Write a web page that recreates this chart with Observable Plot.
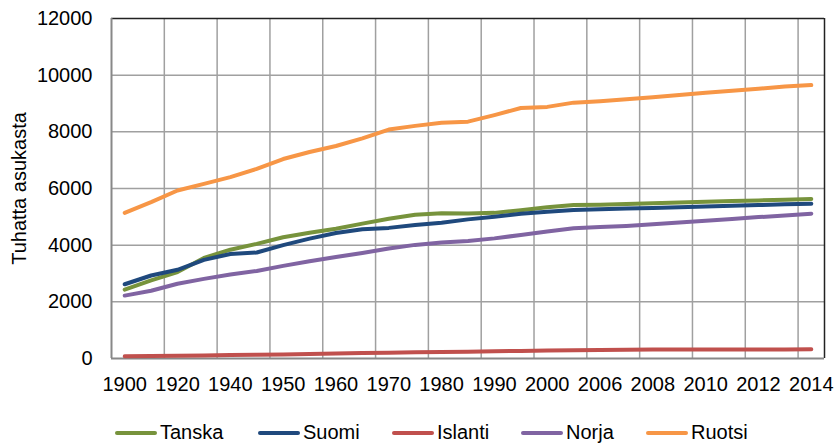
<!DOCTYPE html>
<html>
<head>
<meta charset="utf-8">
<script src="https://cdn.jsdelivr.net/npm/d3@7"></script>
<script src="https://cdn.jsdelivr.net/npm/@observablehq/plot@0.6"></script>
<style>
  html, body { margin: 0; padding: 0; background: #fff; }
  body { width: 836px; height: 447px; overflow: hidden; font-family: "Liberation Sans", Arial, sans-serif; }
  #legend { position: relative; height: 47px; font-size: 20px; color: #000; }
  .item { position: absolute; top: 21px; display: flex; align-items: center; }
  .sw { width: 42px; height: 4px; border-radius: 2px; margin-right: 3px; }
</style>
</head>
<body>
<div id="chart"></div>
<div id="legend"></div>
<script>
const years = ["1900","1910","1920","1930","1940","1945","1950","1955","1960","1965","1970","1975","1980","1985","1990","1995","2000","2005","2006","2007","2008","2009","2010","2011","2012","2013","2014"];
const tickLabels = ["1900","1920","1940","1950","1960","1970","1980","1990","2000","2006","2008","2010","2012","2014"];
const yTicks = [0, 2000, 4000, 6000, 8000, 10000, 12000];

const seriesNames = ["Tanska", "Suomi", "Islanti", "Norja", "Ruotsi"];
const seriesColors = ["#77933c", "#1f497d", "#c0504d", "#8064a2", "#f79646"];

const tanska  = [2430, 2760, 3050, 3550, 3840, 4045, 4280, 4440, 4580, 4760, 4930, 5070, 5125, 5115, 5140, 5230, 5340, 5420, 5430, 5450, 5480, 5510, 5535, 5560, 5580, 5600, 5630];
const suomi   = [2620, 2930, 3130, 3480, 3690, 3740, 4000, 4230, 4430, 4560, 4610, 4710, 4790, 4910, 5000, 5110, 5180, 5245, 5265, 5290, 5315, 5340, 5365, 5390, 5415, 5440, 5465];
const islanti = [78, 85, 94, 109, 121, 130, 143, 158, 176, 192, 204, 218, 228, 241, 255, 267, 279, 294, 300, 308, 315, 319, 318, 318, 320, 322, 326];
const norja   = [2220, 2392, 2640, 2810, 2965, 3090, 3270, 3430, 3580, 3720, 3880, 4010, 4090, 4150, 4240, 4360, 4480, 4600, 4640, 4680, 4740, 4800, 4860, 4920, 4990, 5050, 5110];
const ruotsi  = [5140, 5520, 5930, 6165, 6400, 6695, 7040, 7290, 7500, 7770, 8080, 8210, 8320, 8360, 8590, 8840, 8880, 9030, 9080, 9150, 9220, 9300, 9380, 9450, 9520, 9600, 9650];

const allValues = [tanska, suomi, islanti, norja, ruotsi];
const data = [];
seriesNames.forEach((name, s) => {
  years.forEach((yr, i) => data.push({series: name, idx: i, year: yr, value: allValues[s][i]}));
});

const tickIdx = tickLabels.map(t => years.indexOf(t));
const gridIdx = tickIdx.map(i => i - 0.5);

const chart = Plot.plot({
  width: 836,
  height: 400,
  marginLeft: 111,
  marginRight: 12,
  marginTop: 18,
  marginBottom: 42,
  style: {fontFamily: "'Liberation Sans', Arial, sans-serif", fontSize: "20px", color: "#000", background: "#fff"},
  x: {type: "linear", domain: [-0.5, years.length - 0.5]},
  y: {domain: [0, 12000]},
  color: {domain: seriesNames, range: seriesColors},
  marks: [
    Plot.gridY(yTicks.slice(1, -1), {stroke: "#a0a0a0", strokeOpacity: 1, strokeWidth: 1.5}),
    Plot.gridX(gridIdx.slice(1), {stroke: "#a0a0a0", strokeOpacity: 1, strokeWidth: 1.5}),
    Plot.ruleY([12000], {stroke: "#222", strokeWidth: 1.5}),
    Plot.ruleX([years.length - 0.5], {stroke: "#222", strokeWidth: 1.5}),
    Plot.ruleX([-0.5], {stroke: "#888", strokeWidth: 2}),
    Plot.ruleY([0], {stroke: "#888", strokeWidth: 2}),
    Plot.axisY(yTicks, {tickSize: 0, tickPadding: 19, tickFormat: d => String(d), label: "Tuhatta asukasta", labelAnchor: "center", labelArrow: "none", labelOffset: 100}),
    Plot.axisX(tickIdx, {tickSize: 0, tickPadding: 18, tickFormat: i => years[i], label: null}),
    Plot.line(data, {x: "idx", y: "value", z: "series", stroke: "series", strokeWidth: 4, strokeLinejoin: "round", strokeLinecap: "round"})
  ]
});
document.getElementById("chart").appendChild(chart);

const legendX = [115, 258, 392, 521, 646];
const legend = document.getElementById("legend");
seriesNames.forEach((name, i) => {
  const it = document.createElement("div");
  it.className = "item";
  it.style.left = legendX[i] + "px";
  const sw = document.createElement("span");
  sw.className = "sw";
  sw.style.background = seriesColors[i];
  const tx = document.createElement("span");
  tx.textContent = name;
  it.appendChild(sw);
  it.appendChild(tx);
  legend.appendChild(it);
});
</script>
</body>
</html>
